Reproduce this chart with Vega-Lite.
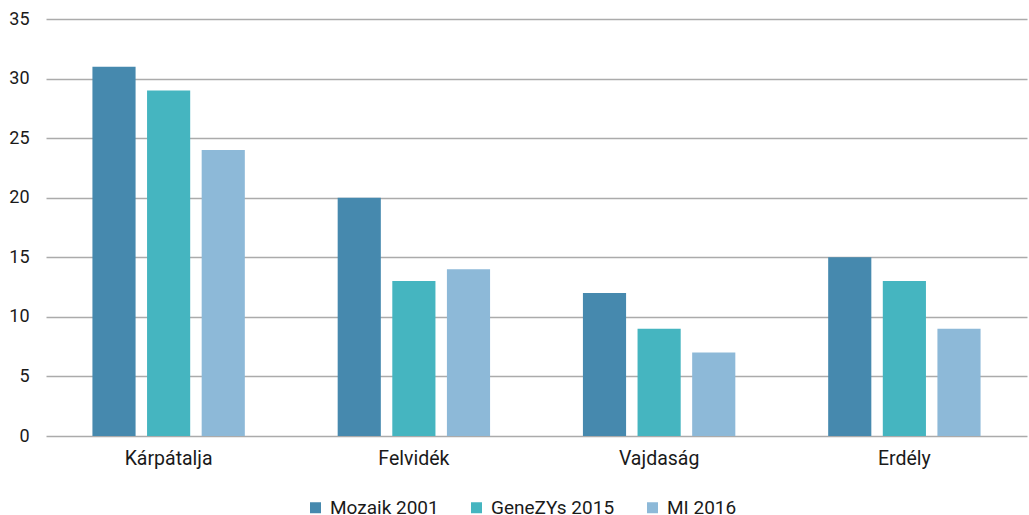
{
  "$schema": "https://vega.github.io/schema/vega-lite/v6.json",
  "width": 981,
  "height": 417,
  "autosize": {"type": "none"},
  "padding": {"left": 46, "top": 19, "right": 2, "bottom": 79},
  "background": "#ffffff",
  "config": {
    "font": "Roboto",
    "view": {"stroke": null},
    "legend": {"padding": 0}
  },
  "data": {
    "values": [
      {"region": "Kárpátalja", "survey": "Mozaik 2001", "value": 31},
      {"region": "Kárpátalja", "survey": "GeneZYs 2015", "value": 29},
      {"region": "Kárpátalja", "survey": "MI 2016", "value": 24},
      {"region": "Felvidék", "survey": "Mozaik 2001", "value": 20},
      {"region": "Felvidék", "survey": "GeneZYs 2015", "value": 13},
      {"region": "Felvidék", "survey": "MI 2016", "value": 14},
      {"region": "Vajdaság", "survey": "Mozaik 2001", "value": 12},
      {"region": "Vajdaság", "survey": "GeneZYs 2015", "value": 9},
      {"region": "Vajdaság", "survey": "MI 2016", "value": 7},
      {"region": "Erdély", "survey": "Mozaik 2001", "value": 15},
      {"region": "Erdély", "survey": "GeneZYs 2015", "value": 13},
      {"region": "Erdély", "survey": "MI 2016", "value": 9}
    ]
  },
  "mark": {"type": "bar"},
  "encoding": {
    "x": {
      "field": "region",
      "type": "nominal",
      "sort": ["Kárpátalja", "Felvidék", "Vajdaság", "Erdély"],
      "scale": {"paddingInner": 0, "paddingOuter": 0},
      "axis": {
        "title": null,
        "labelAngle": 0,
        "labelFontSize": 19.5,
        "labelColor": "#1a1a1a",
        "labelPadding": 13,
        "ticks": false,
        "domain": false,
        "grid": false
      }
    },
    "xOffset": {
      "field": "survey",
      "type": "nominal",
      "sort": ["Mozaik 2001", "GeneZYs 2015", "MI 2016"],
      "scale": {"paddingInner": 0.21, "paddingOuter": 0.85}
    },
    "y": {
      "field": "value",
      "type": "quantitative",
      "scale": {"domain": [0, 35], "nice": false},
      "axis": {
        "title": null,
        "values": [0, 5, 10, 15, 20, 25, 30, 35],
        "labelFontSize": 18,
        "labelColor": "#1a1a1a",
        "labelPadding": 17,
        "ticks": false,
        "domain": false,
        "gridColor": "#ABABAB",
        "gridWidth": 1.3
      }
    },
    "color": {
      "field": "survey",
      "type": "nominal",
      "sort": ["Mozaik 2001", "GeneZYs 2015", "MI 2016"],
      "scale": {
        "domain": ["Mozaik 2001", "GeneZYs 2015", "MI 2016"],
        "range": ["#4689AE", "#45B5C0", "#8DB9D8"]
      },
      "legend": {
        "title": null,
        "orient": "none",
        "direction": "horizontal",
        "legendX": 260,
        "legendY": 479,
        "symbolType": "square",
        "symbolSize": 121,
        "symbolStrokeWidth": 0,
        "labelFontSize": 19,
        "labelColor": "#1a1a1a",
        "labelOffset": 5,
        "columnPadding": 28
      }
    }
  }
}
